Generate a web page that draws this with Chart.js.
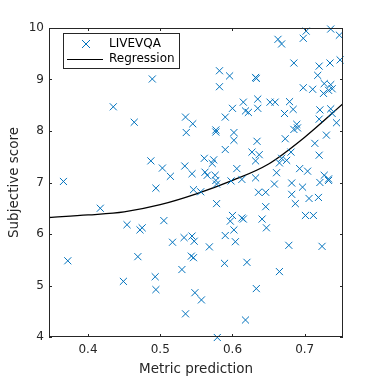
<!DOCTYPE html>
<html>
<head>
<meta charset="utf-8">
<script src="https://cdn.jsdelivr.net/npm/chart.js@4.4.1/dist/chart.umd.min.js"></script>
<style>
  html, body { margin: 0; padding: 0; background: #fff; }
  #scatterChart { display: block; }
</style>
</head>
<body>
<canvas id="scatterChart" width="378" height="378"></canvas>
<script>
// metric predictions (x) and subjective scores (y)
const metricPrediction = [
  0.366, 0.372, 0.417, 0.435, 0.449, 0.454, 0.464, 0.472, 0.475, 0.469,
  0.489, 0.487, 0.494, 0.493, 0.494, 0.503, 0.514, 0.505, 0.517, 0.530,
  0.535, 0.533, 0.544, 0.547, 0.543, 0.546, 0.548, 0.544, 0.546, 0.535,
  0.545, 0.536, 0.534, 0.582, 0.596, 0.582, 0.600, 0.590, 0.615, 0.577,
  0.577, 0.602, 0.602, 0.590, 0.561, 0.574, 0.572, 0.562, 0.565, 0.576,
  0.577, 0.606, 0.598, 0.613, 0.556, 0.578, 0.578, 0.600, 0.597, 0.613,
  0.615, 0.602, 0.590, 0.604, 0.568, 0.589, 0.557, 0.579, 0.618, 0.620,
  0.633, 0.665, 0.678, 0.724, 0.636, 0.646, 0.646, 0.641, 0.647, 0.658,
  0.682, 0.682, 0.687, 0.697, 0.706, 0.719, 0.701, 0.712, 0.721, 0.733,
  0.702, 0.698, 0.736, 0.748, 0.663, 0.668, 0.685, 0.720, 0.735, 0.749,
  0.632, 0.633, 0.718, 0.727, 0.736, 0.738, 0.698, 0.711, 0.733, 0.726,
  0.635, 0.635, 0.622, 0.618, 0.652, 0.659, 0.679, 0.684, 0.672, 0.721,
  0.736, 0.738, 0.720, 0.744, 0.689, 0.690, 0.685, 0.730, 0.673, 0.634,
  0.714, 0.627, 0.637, 0.632, 0.681, 0.720, 0.668, 0.675, 0.665, 0.693,
  0.704, 0.661, 0.632, 0.727, 0.733
];
const subjectiveScore = [
  7.02, 5.48, 6.50, 8.47, 5.08, 6.18, 8.17, 6.08, 6.12, 5.56,
  9.01, 7.42, 6.89, 5.17, 4.92, 7.28, 7.12, 6.26, 5.84, 5.31,
  4.45, 5.93, 5.96, 5.86, 5.57, 5.54, 4.86, 7.17, 6.86, 8.27,
  8.14, 7.97, 7.32, 9.17, 9.07, 8.86, 8.44, 8.27, 8.56, 8.02,
  7.98, 7.97, 7.82, 7.64, 7.47, 7.44, 7.37, 7.20, 7.14, 7.14,
  7.04, 7.27, 7.03, 7.06, 6.82, 6.97, 6.59, 6.36, 6.25, 6.31,
  6.29, 6.08, 5.97, 5.85, 5.75, 5.43, 4.72, 3.99, 4.33, 5.45,
  4.94, 5.27, 5.78, 5.76, 6.81, 6.81, 6.53, 6.29, 6.12, 6.97,
  6.99, 6.77, 6.59, 6.91, 6.69, 6.71, 6.36, 6.36, 7.00, 7.04,
  9.94, 9.80, 9.98, 9.86, 9.78, 9.69, 9.32, 9.26, 9.32, 9.38,
  9.04, 9.02, 9.08, 8.92, 8.90, 8.82, 8.84, 8.81, 8.79, 8.73,
  8.62, 8.44, 8.36, 8.39, 8.56, 8.56, 8.57, 8.42, 8.34, 8.41,
  8.43, 8.34, 8.23, 8.16, 8.13, 8.06, 8.03, 7.92, 7.85, 7.80,
  7.76, 7.59, 7.54, 7.42, 7.59, 7.53, 7.47, 7.43, 7.38, 7.27,
  7.22, 7.19, 7.09, 7.14, 7.07
];
// fitted regression curve
const regressionX = [0.346, 0.40, 0.45, 0.50, 0.55, 0.60, 0.65, 0.70, 0.753];
const regressionY = [6.32, 6.37, 6.43, 6.57, 6.78, 7.04, 7.36, 7.88, 8.53];

const xTicks = [0.4, 0.5, 0.6, 0.7];
const yTicks = [4, 5, 6, 7, 8, 9, 10];
const xRange = [0.346, 0.753];
const yRange = [4, 10];

const blue = '#0072BD';
const axisColor = '#262626';
const fontFamily = '"DejaVu Sans", sans-serif';

var scatterPoints = metricPrediction.map(function(x, i){
    return {x: x, y: subjectiveScore[i]};
});
var curvePoints = regressionX.map(function(x, i){
    return {x: x, y: regressionY[i]};
});

// box around the axes with inward tick marks, like matlab
const axesBox = {
    id: 'axesBox',
    afterDatasetsDraw(chart) {
        const ctx = chart.ctx;
        const a = chart.chartArea;
        const xs = chart.scales.x, ys = chart.scales.y;
        const len = 3;
        ctx.save();
        ctx.strokeStyle = axisColor;
        ctx.lineWidth = 1;
        ctx.strokeRect(a.left + 0.5, a.top + 0.5, a.right - a.left - 1, a.bottom - a.top - 1);
        ctx.beginPath();
        xTicks.forEach(function(v){
            const px = Math.round(xs.getPixelForValue(v)) + 0.5;
            ctx.moveTo(px, a.bottom); ctx.lineTo(px, a.bottom - len);
            ctx.moveTo(px, a.top); ctx.lineTo(px, a.top + len);
        });
        yTicks.forEach(function(v){
            const py = Math.round(ys.getPixelForValue(v)) + 0.5;
            ctx.moveTo(a.left, py); ctx.lineTo(a.left + len, py);
            ctx.moveTo(a.right, py); ctx.lineTo(a.right - len, py);
        });
        ctx.stroke();
        ctx.restore();
    },
    afterDraw(chart) {
        // legend box in the upper left corner
        const ctx = chart.ctx;
        const sets = chart.data.datasets;
        ctx.save();
        ctx.fillStyle = '#fff';
        ctx.fillRect(63, 33, 117, 36);
        ctx.strokeStyle = axisColor;
        ctx.lineWidth = 1;
        ctx.strokeRect(63.5, 33.5, 116, 35);
        ctx.strokeStyle = blue;
        ctx.beginPath();
        ctx.moveTo(82, 40); ctx.lineTo(90, 48);
        ctx.moveTo(90, 40); ctx.lineTo(82, 48);
        ctx.stroke();
        ctx.strokeStyle = '#000';
        ctx.beginPath();
        ctx.moveTo(67, 59.5); ctx.lineTo(103, 59.5);
        ctx.stroke();
        ctx.fillStyle = '#000';
        ctx.font = '12px ' + fontFamily;
        ctx.textBaseline = 'middle';
        ctx.fillText(sets[0].label, 109, 44);
        ctx.fillText(sets[1].label, 109, 59);
        ctx.restore();
    }
};

function draw_chart(){
    const ctx = document.getElementById('scatterChart').getContext('2d');
    return new Chart(ctx, {
        type: 'scatter',
        data: {
            datasets: [{
                label: 'LIVEVQA',
                data: scatterPoints,
                pointStyle: 'crossRot',
                pointRadius: 5,
                pointBorderWidth: 1,
                borderColor: blue,
                backgroundColor: blue,
                clip: false
            },
            {
                label: 'Regression',
                type: 'line',
                data: curvePoints,
                borderColor: '#000',
                borderWidth: 1.3,
                pointRadius: 0,
                cubicInterpolationMode: 'monotone',
                fill: false
            }]
        },
        options: {
            responsive: false,
            animation: false,
            layout: { padding: { top: 28, right: 35, left: 0, bottom: 0 } },
            plugins: { legend: { display: false }, tooltip: { enabled: false } },
            scales: {
                x: {
                    type: 'linear',
                    min: xRange[0],
                    max: xRange[1],
                    afterBuildTicks: function(scale){ scale.ticks = xTicks.map(function(v){ return {value: v}; }); },
                    afterFit: function(scale){ scale.height = 41; },
                    grid: { display: false, drawTicks: false },
                    border: { display: false },
                    ticks: {
                        color: axisColor,
                        font: { family: fontFamily, size: 12 },
                        padding: 6,
                        maxRotation: 0,
                        callback: function(v){ return v.toFixed(1); }
                    },
                    title: {
                        display: true,
                        text: 'Metric prediction',
                        color: axisColor,
                        font: { family: fontFamily, size: 13.5 },
                        padding: { top: 2, bottom: 0 }
                    }
                },
                y: {
                    min: yRange[0],
                    max: yRange[1],
                    afterBuildTicks: function(scale){ scale.ticks = yTicks.map(function(v){ return {value: v}; }); },
                    afterFit: function(scale){ scale.width = 49; },
                    grid: { display: false, drawTicks: false },
                    border: { display: false },
                    ticks: {
                        color: axisColor,
                        font: { family: fontFamily, size: 12 },
                        padding: 5
                    },
                    title: {
                        display: true,
                        text: 'Subjective score',
                        color: axisColor,
                        font: { family: fontFamily, size: 13.5 },
                        padding: { top: 6, bottom: 0 }
                    }
                }
            }
        },
        plugins: [axesBox]
    });
}

var scatter_chart = draw_chart();
</script>
</body>
</html>
